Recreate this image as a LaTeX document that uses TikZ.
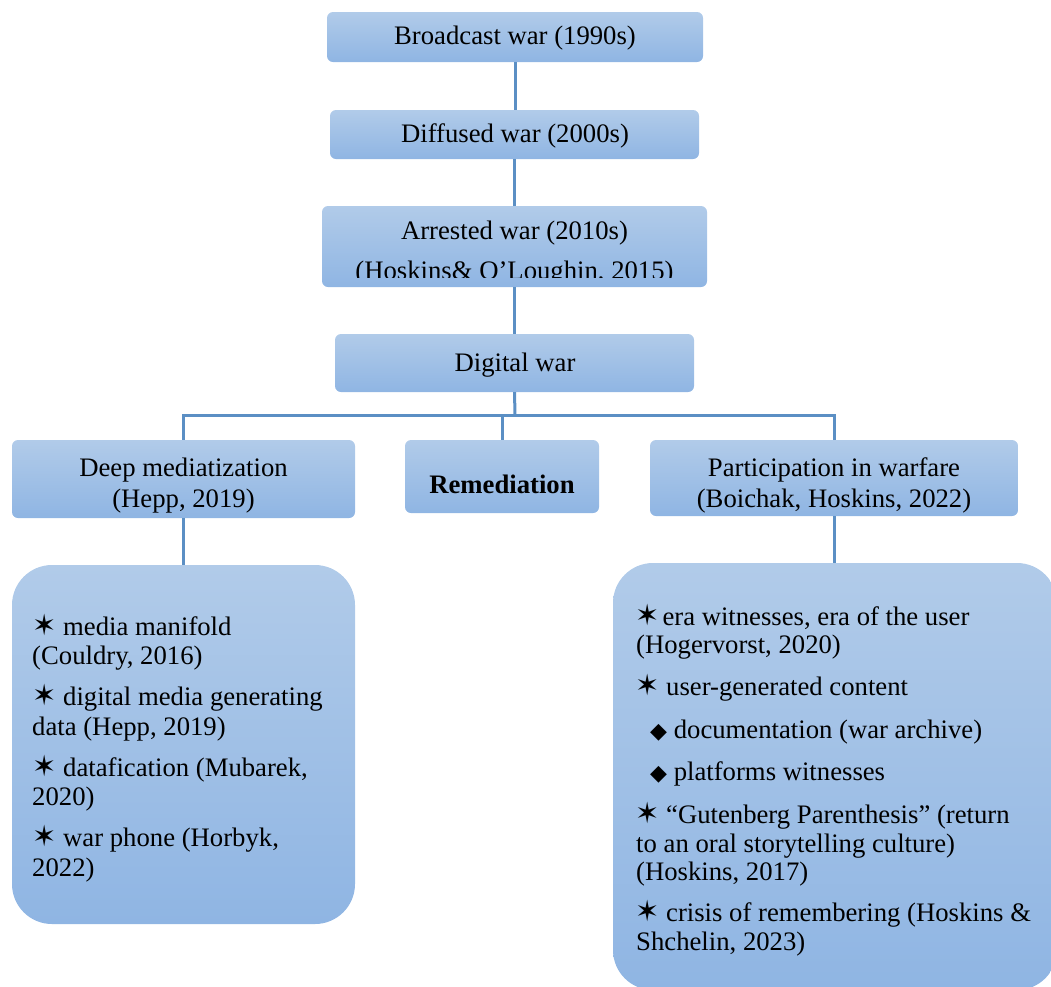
\documentclass[tikz,border=0pt]{standalone}
\usepackage{fontspec}
\setmainfont{Liberation Serif}
\newfontfamily\dejavu{DejaVu Sans}
\definecolor{boxtop}{HTML}{B1CBE9}
\definecolor{boxbot}{HTML}{8FB5E3}
\definecolor{linkc}{HTML}{5B8FC4}
\newcommand\st{{\dejavu\fontsize{29}{29}\selectfont ✶}}
\newcommand\dm{{\dejavu\fontsize{22}{22}\selectfont ◆}}
\begin{document}
\begin{tikzpicture}[x=1pt,y=-1pt,
  box/.style={rectangle, rounded corners=6pt, top color=boxtop, bottom color=boxbot, draw=none, inner sep=0pt},
  bigbox/.style={box, rounded corners=40pt},
  lbl/.style={inner sep=0pt, anchor=base, font=\fontsize{26.7}{29}\selectfont},
  item/.style={lbl, anchor=base west},
  link/.style={draw=linkc, line width=3pt}]
\useasboundingbox (0,0) rectangle (1051,986);

% boxes
\node[box, minimum width=376pt, minimum height=50pt] (bro) at (515,37) {};
\node[box, minimum width=369pt, minimum height=49pt] (dif) at (514.5,134.5) {};
\node[box, minimum width=385pt, minimum height=81pt] (arr) at (514.5,246.5) {};
\node[box, minimum width=359pt, minimum height=58pt] (dig) at (514.5,363) {};
\node[box, minimum width=343pt, minimum height=78pt] (deep) at (183.5,479) {};
\node[box, minimum width=194pt, minimum height=73pt] (rem) at (502,476.5) {};
\node[box, minimum width=368pt, minimum height=76pt] (part) at (834,478) {};
\node[bigbox, minimum width=343pt, minimum height=359pt] (lbig) at (183.5,744.5) {};
\node[bigbox, minimum width=444pt, minimum height=427pt] (rbig) at (835,776.5) {};

% connectors
\coordinate (bar) at (515,415);
\draw[link] (bro.south) -- (bro.south |- dif.north);
\draw[link] (dif.south) -- (dif.south |- arr.north);
\draw[link] (arr.south) -- (arr.south |- dig.north);
\draw[link] (dig.south) -- (bar);
\draw[link] (deep.north) |- (bar) -| (part.north);
\draw[link] (rem.north) -- (rem.north |- bar);
\draw[link] (deep.south) -- (deep.south |- lbig.north);
\draw[link] (part.south) -- (part.south |- rbig.north);

% titles
\node[lbl] (tbro) at (515,44.3) {Broadcast war (1990s)};
\node[lbl] (tdif) at (515,142.3) {Diffused war (2000s)};
\begin{scope}
\clip (322,206) rectangle (707,277.5);
\node[lbl] (tarr1) at (514.5,239.3) {Arrested war (2010s)};
\node[lbl] (tarr2) at (514.5,279.5) {(Hoskins\& O’Loughin, 2015)};
\end{scope}
\node[lbl] (tdig) at (515,371) {Digital war};
\node[lbl] (tdeep1) at (183.5,476.7) {Deep mediatization};
\node[lbl] (tdeep2) at (183.5,507.7) {(Hepp, 2019)};
\node[lbl, font=\fontsize{26.7}{29}\selectfont\bfseries] (trem) at (502,493.3) {Remediation};
\node[lbl] (tpart1) at (834,476.7) {Participation in warfare};
\node[lbl] (tpart2) at (834,507.7) {(Boichak, Hoskins, 2022)};

% left items
\node[item] (l1) at (32,635) {\st\ media manifold};
\node[item] (l2) at (32,664.5) {(Couldry, 2016)};
\node[item] (l3) at (32,705.5) {\st\ digital media generating};
\node[item] (l4) at (32,735) {data (Hepp, 2019)};
\node[item] (l5) at (32,776) {\st\ datafication (Mubarek,};
\node[item] (l6) at (32,805.5) {2020)};
\node[item] (l7) at (32,846.5) {\st\ war phone (Horbyk,};
\node[item] (l8) at (32,876) {2022)};

% right items
\node[item] (r1) at (635,625) {\st\kern3pt era witnesses, era of the user};
\node[item] (r2) at (636,653.5) {(Hogervorst, 2020)};
\node[item] (r3) at (635,695) {\st\ user-generated content};
\node[item] (r4) at (650,738) {\dm\ documentation (war archive)};
\node[item] (r5) at (650,780.5) {\dm\ platforms witnesses};
\node[item] (r6) at (635,823) {\st\ “Gutenberg Parenthesis” (return};
\node[item] (r7) at (636,852) {to an oral storytelling culture)};
\node[item] (r8) at (636,880.5) {(Hoskins, 2017)};
\node[item] (r9) at (635,921.5) {\st\ crisis of remembering (Hoskins \&};
\node[item] (r10) at (636,950) {Shchelin, 2023)};
\end{tikzpicture}
\end{document}
